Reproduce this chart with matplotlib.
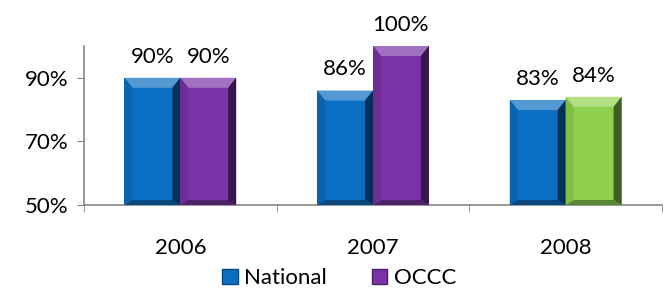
import matplotlib.pyplot as plt
from matplotlib.patches import Polygon, Patch
import numpy as np

years = ['2006', '2007', '2008']
national = [90, 86, 83]
occc = [90, 100, 84]
national_colors = ['#0a6fc2', '#0a6fc2', '#0a6fc2']
occc_colors = ['#7a32a6', '#7a32a6', '#8fd14f']

plt.rcParams['font.family'] = ['Lato', 'DejaVu Sans']
FS = 16

fig = plt.figure(figsize=(6.65, 2.9), dpi=100)
ax = fig.add_axes([0.1263, 0.2931, 0.8692, 0.5483])

x = np.arange(len(years))
w = 0.29
base = 50
bars_n = ax.bar(x - w / 2, np.array(national) - base, w, bottom=base, color=national_colors, zorder=2)
bars_o = ax.bar(x + w / 2, np.array(occc) - base, w, bottom=base, color=occc_colors, zorder=2)

ax.set_xlim(-0.5, 2.5)
ax.set_ylim(50, 100)


def shade(c, f):
    c = np.array(plt.matplotlib.colors.to_rgb(c))
    if f > 0:
        return tuple(c + (1 - c) * f)
    return tuple(c * (1 + f))


# bevel effect, sized in pixels
px = 3.0 / (ax.get_position().width * fig.get_figwidth() * fig.dpi)
py = 50.0 / (ax.get_position().height * fig.get_figheight() * fig.dpi)
bx, by = 8 * px, 10 * py
for bar in list(bars_n) + list(bars_o):
    x0, y0 = bar.get_x(), bar.get_y()
    x1, y1 = x0 + bar.get_width(), y0 + bar.get_height()
    col = bar.get_facecolor()
    sides = [
        ([(x0, y1), (x1, y1), (x1 - bx, y1 - by), (x0 + bx, y1 - by)], shade(col, 0.3)),
        ([(x1, y1), (x1, y0), (x1 - bx, y0 + by * 0.5), (x1 - bx, y1 - by)], shade(col, -0.55)),
        ([(x0, y0), (x1, y0), (x1 - bx, y0 + by * 0.5), (x0 + bx, y0 + by * 0.5)], shade(col, -0.35)),
        ([(x0, y1), (x0, y0), (x0 + bx, y0 + by * 0.5), (x0 + bx, y1 - by)], shade(col, -0.1)),
    ]
    for pts, c in sides:
        ax.add_patch(Polygon(pts, closed=True, facecolor=c, edgecolor='none', zorder=3))
    ax.annotate(f'{int(round(y1))}%', (bar.get_x() + bar.get_width() / 2, y1),
                xytext=(0, 8), textcoords='offset points', ha='center', va='bottom',
                fontsize=FS, color='black', annotation_clip=False)

for s in ['top', 'right']:
    ax.spines[s].set_visible(False)
for s in ['left', 'bottom']:
    ax.spines[s].set_color('#868686')
    ax.spines[s].set_linewidth(1.2)

ax.set_yticks([50, 70, 90])
ax.set_yticklabels(['50%', '70%', '90%'], fontsize=FS)
ax.tick_params(axis='y', length=5, color='#868686', pad=6)
ax.set_xticks(x)
ax.set_xticklabels(years, fontsize=FS)
ax.set_xticks([-0.5, 0.5, 1.5, 2.5], minor=True)
ax.tick_params(axis='x', which='major', length=0, pad=24)
ax.tick_params(axis='x', which='minor', length=5, color='#868686')

handles = [Patch(facecolor='#0a6fc2', edgecolor='#084a80'),
           Patch(facecolor='#7a32a6', edgecolor='#4a1f66')]
fig.legend(handles, ['National', 'OCCC'], loc='center', bbox_to_anchor=(0.51, 0.04),
           ncol=2, frameon=False, fontsize=FS, handlelength=0.7, handleheight=0.7,
           handletextpad=0.3, columnspacing=2.0, borderpad=0)

fig.savefig('out.png', dpi=100)
